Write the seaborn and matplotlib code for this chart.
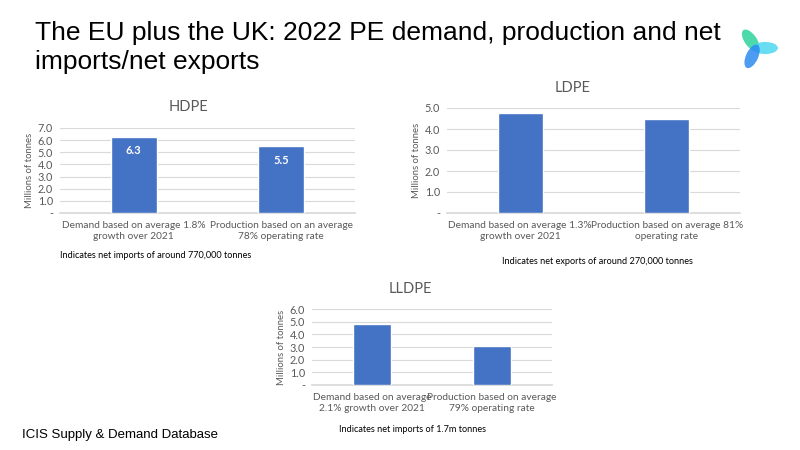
import matplotlib
matplotlib.use("Agg")
import matplotlib.pyplot as plt
import seaborn as sns
import pandas as pd
import numpy as np
from matplotlib.patches import Ellipse
from matplotlib.ticker import FuncFormatter, MultipleLocator

# data
hdpe_cats = ["Demand based on average 1.8%\ngrowth over 2021",
             "Production based on an average\n78% operating rate"]
hdpe_vals = [6.27, 5.5]
ldpe_cats = ["Demand based on average 1.3%\ngrowth over 2021",
             "Production based on average 81%\noperating rate"]
ldpe_vals = [4.75, 4.48]
lldpe_cats = ["Demand based on average\n2.1% growth over 2021",
              "Production based on average\n79% operating rate"]
lldpe_vals = [4.8, 3.1]

BLUE = "#4472C4"
GREY = "#595959"
GRID = "#D9D9D9"

sns.set_theme(style="white")
plt.rcParams["font.family"] = ["Lato", "DejaVu Sans"]

W, H = 800, 450
fig = plt.figure(figsize=(8, 4.5), dpi=100)


def box(x0, y0, x1, y1):
    # pixel box (top-left origin) -> figure fraction
    return [x0 / W, 1 - y1 / H, (x1 - x0) / W, (y1 - y0) / H]


def txt(x, y, s, **kw):
    fig.text(x / W, 1 - y / H, s, **kw)


def panel(rect, cats, vals, ymax, width, show_labels=False):
    ax = fig.add_axes(rect)
    df = pd.DataFrame({"cat": cats, "val": vals})
    sns.barplot(data=df, x="cat", y="val", color=BLUE, saturation=1,
                width=width, ax=ax, zorder=3)
    ax.set_ylim(0, ymax)
    ax.set_xlim(-0.5, 1.5)
    ax.yaxis.set_major_locator(MultipleLocator(1))
    ax.yaxis.set_major_formatter(
        FuncFormatter(lambda v, p: "-" if v == 0 else f"{v:.1f}"))
    ax.grid(axis="y", color=GRID, lw=0.8, zorder=0)
    for s in ["top", "right", "left"]:
        ax.spines[s].set_visible(False)
    ax.spines["bottom"].set_color(GRID)
    ax.tick_params(axis="y", length=0, labelsize=7.8, labelcolor=GREY, pad=5)
    ax.tick_params(axis="x", length=0, labelsize=7.3, labelcolor=GREY, pad=6)
    ax.set_xlabel("")
    ax.set_ylabel("Millions of tonnes", fontsize=6.8, color=GREY, labelpad=3)
    if show_labels:
        ax.bar_label(ax.containers[0], fmt="%.1f", padding=-14,
                     color="white", fontsize=8, fontweight="bold")
    return ax


panel(box(60, 128, 355, 213), hdpe_cats, hdpe_vals, 7, 0.31, show_labels=True)
panel(box(447, 108, 740, 213), ldpe_cats, ldpe_vals, 5, 0.31)
panel(box(312, 309, 552, 385), lldpe_cats, lldpe_vals, 6, 0.32)

# chart titles
txt(188, 107, "HDPE", fontsize=10.5, color=GREY, ha="center", va="center")
txt(573, 88, "LDPE", fontsize=10.5, color=GREY, ha="center", va="center")
txt(410, 289, "LLDPE", fontsize=10.5, color=GREY, ha="center", va="center")

# notes
txt(60, 256, "Indicates net imports of around 770,000 tonnes",
    fontsize=6.6, color="black", ha="left", va="center")
txt(502, 261, "Indicates net exports of around 270,000 tonnes",
    fontsize=6.6, color="black", ha="left", va="center")
txt(339, 429, "Indicates net imports of 1.7m tonnes",
    fontsize=6.6, color="black", ha="left", va="center")

# slide title and footer
txt(35, 40, "The EU plus the UK: 2022 PE demand, production and net",
    fontsize=19, color="black", ha="left", va="baseline",
    family=["Liberation Sans", "DejaVu Sans"])
txt(35, 69, "imports/net exports",
    fontsize=19, color="black", ha="left", va="baseline",
    family=["Liberation Sans", "DejaVu Sans"])
txt(22, 435, "ICIS Supply & Demand Database", fontsize=9.5, color="black",
    ha="left", va="center", family=["Liberation Sans", "DejaVu Sans"])

# logo
lax = fig.add_axes(box(731, 26, 781, 70))
lax.set_xlim(-1, 1)
lax.set_ylim(-1, 1)
lax.set_aspect("equal")
lax.axis("off")
for ang, col in [(125, "#2ED39B"), (0, "#4FD8F0"), (245, "#2C8CF0")]:
    r = np.deg2rad(ang)
    lax.add_patch(Ellipse((0.42 * np.cos(r), 0.42 * np.sin(r)), 1.15, 0.55,
                          angle=ang, color=col, alpha=0.85, lw=0))

fig.savefig("out.png", dpi=100)
